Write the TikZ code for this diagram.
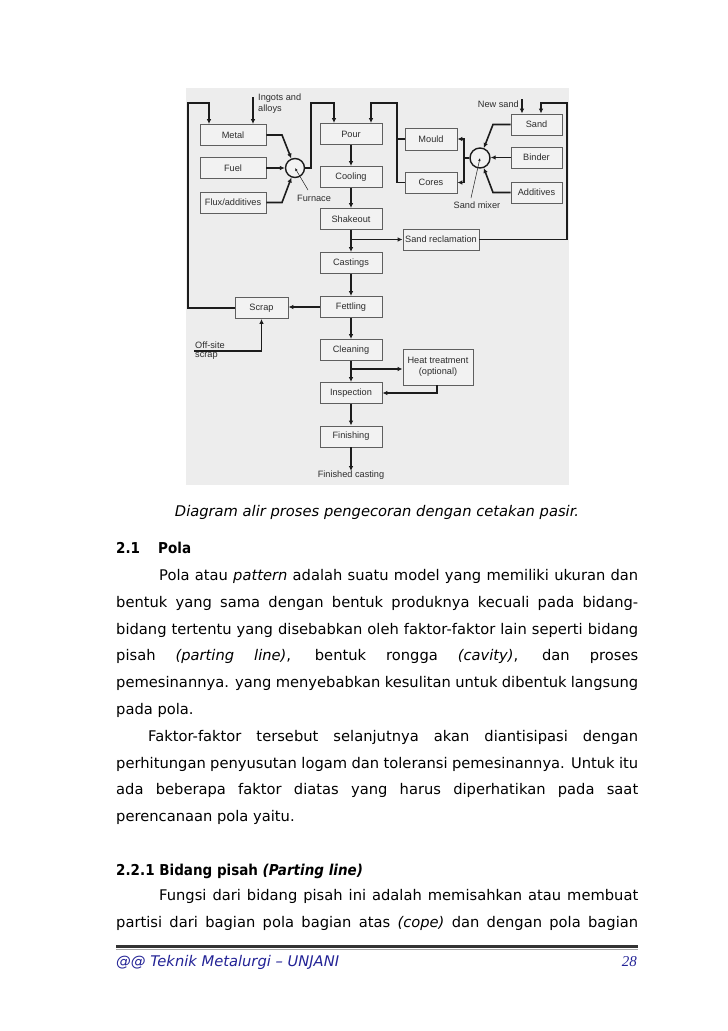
\documentclass[tikz,border=0pt]{standalone}
\usepackage{fontspec}
\usetikzlibrary{arrows.meta}
\setmainfont{DejaVu Sans}[ItalicFont={DejaVu Sans Oblique},BoldFont={DejaVu Sans Bold},BoldItalicFont={DejaVu Sans Bold Oblique}]
\newfontfamily\headfont{DejaVu Sans}[FakeStretch=0.9,BoldFont={DejaVu Sans Bold},BoldItalicFont={DejaVu Sans Bold Oblique},ItalicFont={DejaVu Sans Oblique}]
\newfontfamily\diagfont{Liberation Sans}
\newfontfamily\pagenumfont{Liberation Serif}
\definecolor{diagbg}{RGB}{237,237,237}
\definecolor{boxfill}{RGB}{242,242,242}
\definecolor{boxline}{RGB}{95,95,95}
\definecolor{conn}{RGB}{28,28,28}
\definecolor{diagtext}{RGB}{45,45,45}
\definecolor{footblue}{RGB}{35,35,150}
\tikzset{
  pbox/.style={draw=boxline, fill=boxfill, line width=0.9pt, inner sep=0pt,
    minimum width=62pt, minimum height=21pt, text=diagtext,
    font=\diagfont\fontsize{9.2}{10.5}\selectfont, align=center},
  lbl/.style={inner sep=0pt, text=diagtext, font=\diagfont\fontsize{9.2}{10.5}\selectfont, align=left},
  mixc/.style={circle, draw=conn, line width=1.4pt, fill=boxfill, minimum size=19pt, inner sep=0pt},
  flow/.style={draw=conn, line width=1.6pt, -{Latex[length=5pt,width=4.6pt]}},
  link/.style={draw=conn, line width=1.6pt},
  pointer/.style={draw=conn, line width=0.5pt, -{Latex[length=3pt,width=2.5pt]}},
  body/.style={inner sep=0pt, anchor=base west, font=\fontsize{14.7}{17}\selectfont, text=black},
  head/.style={inner sep=0pt, anchor=base west, font=\headfont\fontsize{15}{17}\selectfont\bfseries, text=black},
}
\begin{document}
\begin{tikzpicture}[x=1pt,y=-1pt]
\useasboundingbox (0,0) rectangle (728,1031);
\fill[white] (0,0) rectangle (728,1031);
% diagram background
\fill[diagbg] (186,88) rectangle (569,485);

% boxes
\node[pbox, minimum width=66pt] (metal) at (233,135) {Metal};
\node[pbox, minimum width=66pt] (fuel) at (233,168) {Fuel};
\node[pbox, minimum width=66pt] (flux) at (233,202.5) {Flux/additives};
\node[pbox] (pour) at (351,134) {Pour};
\node[pbox] (cooling) at (351,177) {Cooling};
\node[pbox] (shakeout) at (351,219) {Shakeout};
\node[pbox] (castings) at (351,263) {Castings};
\node[pbox] (fettling) at (351,307) {Fettling};
\node[pbox] (cleaning) at (351,350) {Cleaning};
\node[pbox] (inspection) at (351,393) {Inspection};
\node[pbox] (finishing) at (351,436.5) {Finishing};
\node[pbox, minimum width=53pt] (scrap) at (261.5,308) {Scrap};
\node[pbox, minimum width=52pt, minimum height=22pt] (mould) at (431,139) {Mould};
\node[pbox, minimum width=52pt] (cores) at (431,182.5) {Cores};
\node[pbox, minimum width=51pt] (sand) at (536.5,124.5) {Sand};
\node[pbox, minimum width=51pt] (binder) at (536.5,157.5) {Binder};
\node[pbox, minimum width=51pt] (additives) at (536.5,192.5) {Additives};
\node[pbox, minimum width=76pt] (reclaim) at (441,239.5) {Sand reclamation};
\node[pbox, minimum width=70pt, minimum height=36pt] (heat) at (438,367) {Heat treatment\\(optional)};

% circles
\node[mixc] (furnace) at (295,168) {};
\node[mixc, minimum size=20pt] (mixer) at (480,158) {};

% labels
\node[lbl, anchor=north west] (inglbl) at (258,94) {Ingots and\\alloys};
\node[lbl, anchor=west] (furnlbl) at (297,198) {Furnace};
\node[lbl, anchor=east] (newsandlbl) at (519,104) {New sand};
\node[lbl] (mixlbl) at (477,205) {Sand mixer};
\node[lbl, anchor=south west] (offlbl1) at (195,348.5) {Off-site};
\node[lbl, anchor=north west] (offlbl2) at (195,352.5) {scrap};
\node[lbl, anchor=north, align=center] (finlbl) at (351,471) {Finished casting};

% coordinates
\coordinate (lt) at (188,103);
\coordinate (lm) at (209,103);
\coordinate (ls) at (188,308);
\coordinate (ing) at (253,97);
\coordinate (mk) at (282,135);
\coordinate (fk) at (282,202.5);
\coordinate (f1) at (311,168);
\coordinate (f2) at (311,103);
\coordinate (f3) at (334,103);
\coordinate (m1) at (397,182.5);
\coordinate (m2) at (397,103);
\coordinate (m3) at (371,103);
\coordinate (sb) at (351,239.5);
\coordinate (cb) at (351,369);
\coordinate (h1) at (437,393);
\coordinate (r1) at (567,239.5);
\coordinate (r2) at (567,103);
\coordinate (r3) at (541,103);
\coordinate (ns) at (522,99);
\coordinate (s1) at (493,124.5);
\coordinate (a1) at (493,192.5);
\coordinate (x1) at (464,158);
\coordinate (o1) at (194,351);
\coordinate (o2) at (261.5,351);
\coordinate (fp) at (308,190);
\coordinate (mp) at (471,198);

% connectors - furnace side
\draw[flow] (scrap.west) -- (ls) -- (lt) -- (lm) -- (lm |- metal.north);
\draw[flow] (ing) -- (ing |- metal.north);
\draw[flow] (metal.east) -- (mk) -- (furnace);
\draw[flow] (fuel.east) -- (furnace);
\draw[flow] (flux.east) -- (fk) -- (furnace);
\draw[flow] (furnace.east) -- (f1) -- (f2) -- (f3) -- (f3 |- pour.north);
\draw[pointer] (fp) -- (furnace.center);

% mould / cores to pour
\draw[link] (mould.west) -- (mould.west -| m1);
\draw[flow] (cores.west) -- (m1) -- (m2) -- (m3) -- (m3 |- pour.north);

% main chain
\draw[flow] (pour) -- (cooling);
\draw[flow] (cooling) -- (shakeout);
\draw[flow] (shakeout) -- (castings);
\draw[flow] (sb) -- (reclaim.west);
\draw[flow] (castings) -- (fettling);
\draw[flow] (fettling.west) -- (fettling.west -| scrap.east);
\draw[flow] (fettling) -- (cleaning);
\draw[flow] (cleaning) -- (inspection);
\draw[flow] (cb) -- (cb -| heat.west);
\draw[flow] (h1 |- heat.south) -- (h1) -- (inspection.east);
\draw[flow] (inspection) -- (finishing);
\draw[flow] (finishing.south) -- (finlbl.north);

% off-site scrap
\draw[flow] (o1) -- (o2) -- (scrap.south);

% sand side
\draw[flow] (reclaim.east) -- (r1) -- (r2) -- (r3) -- (r3 |- sand.north);
\draw[flow] (ns) -- (ns |- sand.north);
\draw[flow] (sand.west) -- (s1) -- (mixer);
\draw[flow] (binder.west) -- (binder.west -| mixer.east);
\draw[flow] (additives.west) -- (a1) -- (mixer);
\draw[link] (mixer.west) -- (x1);
\draw[flow] (x1) -- (x1 |- mould.east) -- (mould.east);
\draw[flow] (x1) -- (x1 |- cores.east) -- (cores.east);
\draw[pointer] (mp) -- (mixer.center);

% caption
\node[inner sep=0pt, anchor=base, font=\fontsize{14.7}{17}\selectfont\itshape] (caption) at (377,516) {Diagram alir proses pengecoran dengan cetakan pasir.};

% section heading
\node[head] (h21num) at (116,553) {2.1};
\node[head] (h21) at (158,553) {Pola};

% body text
\node[body] (t1) at (159,580.4) {\makebox[479pt][s]{Pola atau \textit{pattern} adalah suatu model yang memiliki ukuran dan}};
\node[body] (t2) at (116,607.2) {\makebox[522pt][s]{bentuk yang sama dengan bentuk produknya kecuali pada bidang-}};
\node[body] (t3) at (116,634.0) {\makebox[522pt][s]{bidang tertentu yang disebabkan oleh faktor-faktor lain seperti bidang}};
\node[body] (t4) at (116,660.8) {\makebox[522pt][s]{pisah \textit{(parting line)}, bentuk rongga \textit{(cavity)}, dan proses}};
\node[body] (t5) at (116,687.6) {\makebox[522pt][s]{pemesinannya. yang menyebabkan kesulitan untuk dibentuk langsung}};
\node[body] (t6) at (116,714.4) {pada pola.};
\node[body] (t7) at (148,741.2) {\makebox[490pt][s]{Faktor-faktor tersebut selanjutnya akan diantisipasi dengan}};
\node[body] (t8) at (116,768.0) {\makebox[522pt][s]{perhitungan penyusutan logam dan toleransi pemesinannya. Untuk itu}};
\node[body] (t9) at (116,794.8) {\makebox[522pt][s]{ada beberapa faktor diatas yang harus diperhatikan pada saat}};
\node[body] (t10) at (116,821.6) {perencanaan pola yaitu.};

\node[head] (h221) at (116,875) {2.2.1 Bidang pisah \textit{(Parting line)}};
\node[body] (t11) at (159,900.6) {\makebox[479pt][s]{Fungsi dari bidang pisah ini adalah memisahkan atau membuat}};
\node[body] (t12) at (116,927.4) {\makebox[522pt][s]{partisi dari bagian pola bagian atas \textit{(cope)} dan dengan pola bagian}};

% footer
\draw[draw=black!80, line width=2.2pt] (116,946.5) -- (638,946.5);
\draw[draw=black!35, line width=0.8pt] (116,948.9) -- (638,948.9);
\node[body, font=\fontsize{14.7}{17}\selectfont\itshape, text=footblue] (foot) at (116,966) {@@ Teknik Metalurgi – UNJANI};
\node[inner sep=0pt, anchor=base east, font=\pagenumfont\fontsize{15}{17}\selectfont\itshape, text=footblue] (pnum) at (637,966) {28};
\end{tikzpicture}
\end{document}
